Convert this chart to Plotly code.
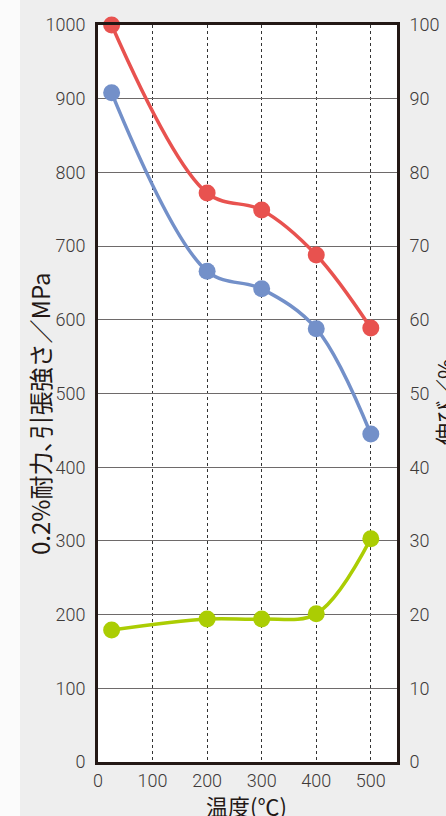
import plotly.graph_objects as go

# Test temperatures (°C)
temperature = [25, 200, 300, 400, 500]

# Tensile strength, 0.2% proof stress (MPa) and elongation (%)
tensile_strength = [1000, 772, 749, 688, 589]
proof_stress = [908, 666, 642, 588, 445]
elongation = [17.9, 19.4, 19.4, 20.1, 30.3]

x_ticks = [0, 100, 200, 300, 400, 500]
left_ticks = list(range(0, 1001, 100))
right_ticks = list(range(0, 101, 10))

RED = "#e8524f"
BLUE = "#7390c9"
GREEN = "#abcd03"
INK = "#231815"
TEXT = "#3e3a39"
TICK_FONT = dict(family="Roboto Light, Lato, sans-serif", size=18, color=TEXT)
TITLE_FONT = dict(family="Noto Sans CJK JP", size=22, color=INK)

L, R, T, B = 98, 397, 25, 762
W, H = 446, 816

fig = go.Figure()

def add_series(y, color, axis):
    fig.add_trace(go.Scatter(
        x=temperature, y=y, yaxis=axis, mode="lines+markers",
        line=dict(color=color, width=3.5, shape="spline", smoothing=1),
        marker=dict(color=color, size=17),
        showlegend=False, cliponaxis=False,
    ))

add_series(tensile_strength, RED, "y")
add_series(proof_stress, BLUE, "y")
add_series(elongation, GREEN, "y2")

fig.update_layout(
    width=W, height=H,
    margin=dict(l=L, r=W - R, t=T, b=H - B, autoexpand=False),
    paper_bgcolor="#eeeeee",
    plot_bgcolor="white",
    xaxis=dict(
        range=[0, 548], tickvals=x_ticks, ticktext=[str(v) for v in x_ticks],
        showgrid=True, gridcolor="#333333", gridwidth=1.2, griddash="dot",
        showline=True, linecolor=INK, linewidth=3, mirror=True,
        ticks="", tickfont=TICK_FONT, zeroline=False, automargin=False,
    ),
    yaxis=dict(
        range=[0, 1000], tickvals=left_ticks,
        showgrid=True, gridcolor="#6e6a6a", gridwidth=1.3,
        showline=True, linecolor=INK, linewidth=3, mirror=True,
        ticks="", ticklabelstandoff=6, tickfont=TICK_FONT, zeroline=False,
        automargin=False,
    ),
    yaxis2=dict(
        range=[0, 100], tickvals=right_ticks, overlaying="y", side="right",
        showgrid=False, showline=True, linecolor=INK, linewidth=3,
        ticks="", ticklabelstandoff=6, tickfont=TICK_FONT, zeroline=False,
        automargin=False,
    ),
    shapes=[dict(type="rect", xref="paper", yref="paper",
                 x0=-L / (R - L), x1=(20 - L) / (R - L), y0=-1, y1=2,
                 fillcolor="#fbfbfb", line=dict(width=0), layer="below")],
)

def px_x(px):
    return (px - L) / (R - L)

def px_y(py):
    return (B - py) / (B - T)

fig.add_annotation(text="0.2%耐力､引張強さ／MPa", textangle=-90,
                   xref="paper", yref="paper", x=px_x(40), y=px_y(414),
                   xanchor="center", yanchor="middle", showarrow=False,
                   font=dict(TITLE_FONT, size=24))
fig.add_annotation(text="伸び／%", textangle=-90,
                   xref="paper", yref="paper", x=px_x(444), y=px_y(402),
                   xanchor="center", yanchor="middle", showarrow=False,
                   font=TITLE_FONT)
fig.add_annotation(text="温度(℃)",
                   xref="paper", yref="paper", x=px_x(246), y=px_y(805),
                   xanchor="center", yanchor="middle", showarrow=False,
                   font=TITLE_FONT)

fig.write_html("out.html")
